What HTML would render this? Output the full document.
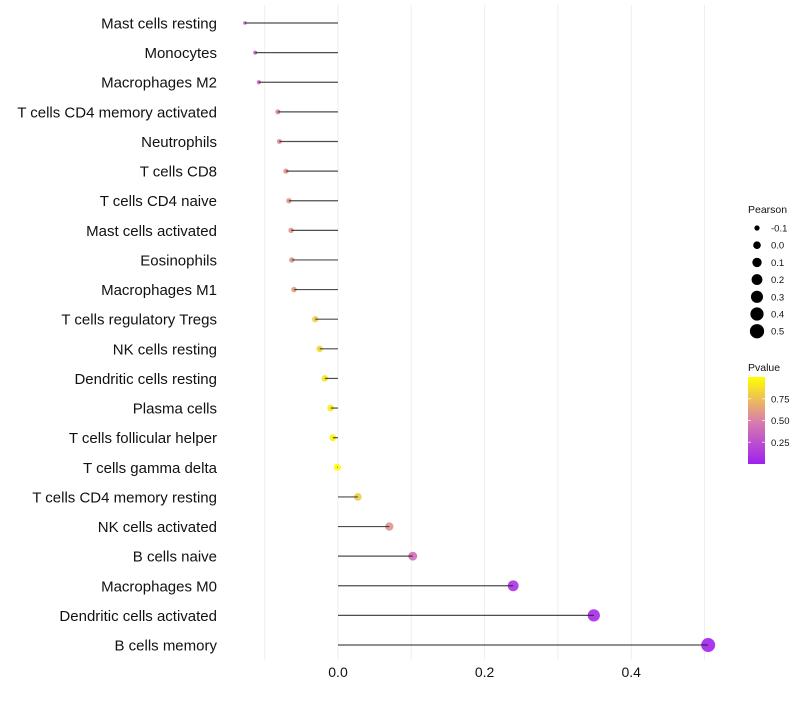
<!DOCTYPE html>
<html><head><meta charset="utf-8"><style>
body{margin:0;background:#fff;font-family:"Liberation Sans",sans-serif}
</style></head><body>
<svg id="chart" width="800" height="700" xmlns="http://www.w3.org/2000/svg" font-family="Liberation Sans, sans-serif"></svg>
<script>
const categories=["Mast cells resting","Monocytes","Macrophages M2","T cells CD4 memory activated","Neutrophils","T cells CD8","T cells CD4 naive","Mast cells activated","Eosinophils","Macrophages M1","T cells regulatory  Tregs ","NK cells resting","Dendritic cells resting","Plasma cells","T cells follicular helper","T cells gamma delta","T cells CD4 memory resting","NK cells activated","B cells naive","Macrophages M0","Dendritic cells activated","B cells memory"];
const pearson=[-0.127,-0.113,-0.108,-0.082,-0.080,-0.071,-0.067,-0.064,-0.063,-0.060,-0.031,-0.025,-0.018,-0.010,-0.007,-0.001,0.027,0.070,0.102,0.239,0.349,0.505];
const pvalue=[0.30,0.35,0.36,0.52,0.55,0.58,0.60,0.60,0.60,0.62,0.80,0.85,0.90,0.93,0.95,0.99,0.80,0.57,0.40,0.10,0.05,0.01];
const xTicks=[0,0.2,0.4];
const xGrid=[-0.1,0,0.1,0.2,0.3,0.4,0.5];
const sizeBreaks=[-0.1,0,0.1,0.2,0.3,0.4,0.5];
const colorBreaks=[0.25,0.5,0.75];

const NS="http://www.w3.org/2000/svg";
const svg=document.getElementById('chart');
function mk(t,a,p){const e=document.createElementNS(NS,t);for(const k in a)e.setAttribute(k,a[k]);(p||svg).appendChild(e);return e;}
const x=v=>338+v*733;
const y=i=>23+i*29.62;
const r=v=>Math.sqrt(Math.max(2,3+(v+0.127)*72.7));
function col(p){
  const s=[[0,[160,32,240]],[0.5,[218,128,170]],[1,[255,255,0]]];
  let a=s[0],b=s[1];if(p>0.5){a=s[1];b=s[2];}
  const t=(p-a[0])/(b[0]-a[0]);
  const c=a[1].map((v,k)=>Math.round(v+(b[1][k]-v)*t));
  return `rgb(${c[0]},${c[1]},${c[2]})`;
}
xGrid.forEach(g=>{const l=mk('line',{x1:x(g),x2:x(g),y1:5,y2:660,stroke:'#eeeeee','stroke-width':1});
});
categories.forEach((c,i)=>{
  const t=mk('text',{x:217,y:y(i)+5.5,'text-anchor':'end','font-size':15,fill:'#111'});t.textContent=c;
  
  const d=mk('circle',{cx:x(pearson[i]),cy:y(i),r:r(pearson[i]),fill:col(pvalue[i]),'fill-opacity':0.9});
  
  const l=mk('line',{x1:x(0),x2:x(pearson[i]),y1:y(i),y2:y(i),stroke:'#222','stroke-width':1.2,'stroke-opacity':0.8});
  
});
xTicks.forEach(v=>{const t=mk('text',{x:x(v),y:677,'text-anchor':'middle','font-size':14,fill:'#111'});t.textContent=v.toFixed(1);
});
let lt=mk('text',{x:748,y:213,'font-size':10.5,fill:'#111'});lt.textContent='Pearson';

sizeBreaks.forEach((v,i)=>{const cy=228+i*17.2;
  const c=mk('circle',{cx:757,cy:cy,r:r(v)*0.95+0.5,fill:'#000'});
  const t=mk('text',{x:771,y:cy+3.5,'font-size':9.5,fill:'#111'});t.textContent=v.toFixed(1);
  });
lt=mk('text',{x:748,y:371,'font-size':10.5,fill:'#111'});lt.textContent='Pvalue';

const defs=mk('defs',{});const g=mk('linearGradient',{id:'pg',x1:0,y1:1,x2:0,y2:0},defs);
[0,0.25,0.5,0.75,1].forEach(p=>mk('stop',{offset:p,'stop-color':col(p)},g));
const bar=mk('rect',{x:748,y:377,width:17,height:87,fill:'url(#pg)'});

colorBreaks.forEach(p=>{const yy=464-p*87;
  mk('line',{x1:748,x2:751,y1:yy,y2:yy,stroke:'#fff','stroke-opacity':0.7});
  mk('line',{x1:762,x2:765,y1:yy,y2:yy,stroke:'#fff','stroke-opacity':0.7});
  const t=mk('text',{x:771,y:yy+3.5,'font-size':9.5,fill:'#111'});t.textContent=p.toFixed(2);
  });
</script>
</body></html>
